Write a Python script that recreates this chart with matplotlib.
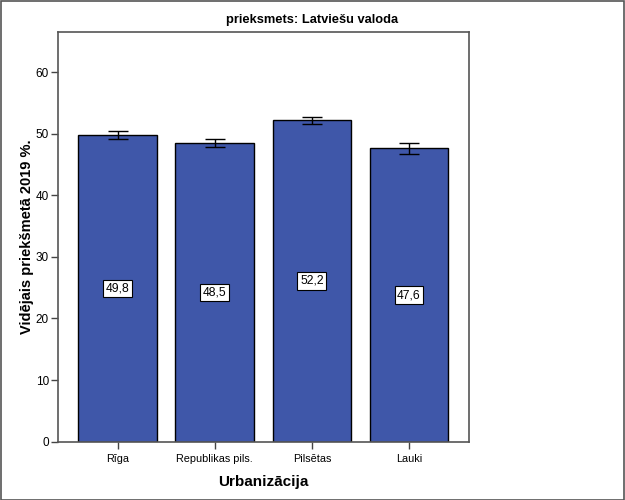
import matplotlib
matplotlib.use("Agg")
import matplotlib.pyplot as plt
from matplotlib.patches import Rectangle

plt.rcParams['font.family'] = ['Liberation Sans', 'DejaVu Sans']

# data
categories = ['Rīga', 'Republikas pils.', 'Pilsētas', 'Lauki']
means = [49.8, 48.5, 52.2, 47.6]
err_low = [49.2, 47.9, 51.6, 46.7]
err_high = [50.4, 49.1, 52.7, 48.5]

bar_color = '#3F57A9'

fig = plt.figure(figsize=(6.25, 5), dpi=100)
ax = fig.add_axes([58 / 625, 1 - 441.7 / 500, 410.7 / 625, 409.7 / 500])

x = list(range(len(categories)))
ax.bar(x, means, width=0.81, color=bar_color, edgecolor='black', linewidth=1, zorder=2)

yerr = [[m - lo for m, lo in zip(means, err_low)],
        [hi - m for m, hi in zip(means, err_high)]]
ax.errorbar(x, means, yerr=yerr, fmt='none', ecolor='black', elinewidth=1,
            capsize=7.2, capthick=1, zorder=3)

# value labels in boxes at half height
for xi, m in zip(x, means):
    ax.text(xi, m / 2, f"{m:.1f}".replace('.', ','), ha='center', va='center',
            fontsize=8.7, zorder=4,
            bbox=dict(boxstyle='square,pad=0.22', facecolor='white', edgecolor='black', linewidth=0.8))

ax.set_xlim(-0.615, 3.615)
ax.set_ylim(0, 66.5)
ax.set_yticks([0, 10, 20, 30, 40, 50, 60])
ax.set_xticks(x)
ax.set_xticklabels(categories)
ax.tick_params(axis='both', direction='out', length=5, width=1, color='#444444', labelsize=8.5)
ax.tick_params(axis='x', labelsize=7.8)
ax.tick_params(axis='y', pad=1.5)

for s in ax.spines.values():
    s.set_color('#555555')
    s.set_linewidth(1.2)

ax.set_xlabel('Urbanizācija', fontsize=11, fontweight='bold', labelpad=8)
ax.set_ylabel('Vidējais priekšmetā 2019 %.', fontsize=10.5, fontweight='bold', labelpad=1.5)

fig.text(0.5, 1 - 20 / 500, 'prieksmets: Latviešu valoda', ha='center', va='center',
         fontsize=9.3, fontweight='bold')

# thin frame round the whole picture
fig.patches.append(Rectangle((0.001, 0.001), 0.998, 0.997, transform=fig.transFigure,
                             fill=False, edgecolor='#555555', linewidth=1.2))

plt.savefig('out.png', dpi=100)
